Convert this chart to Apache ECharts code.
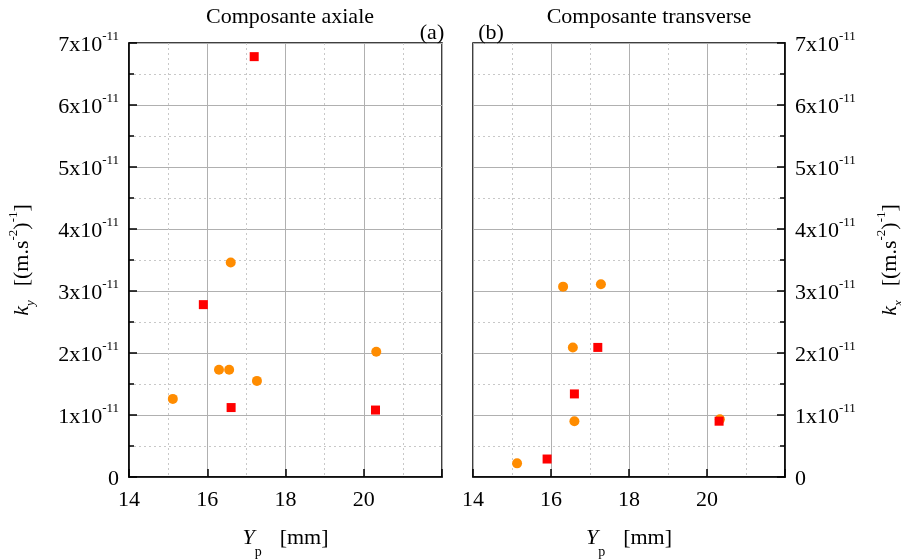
<!DOCTYPE html>
<html>
<head>
<meta charset="utf-8">
<script src="https://cdn.jsdelivr.net/npm/echarts@6/dist/echarts.min.js"></script>
<style>html,body{margin:0;padding:0;background:#fff}#c{width:901px;height:560px}</style>
</head>
<body>
<div id="c"></div>
<script>
// ---- data ----
const panelTitles = ['Composante axiale', 'Composante transverse'];
const panelTags = ['(a)', '(b)'];
const xTicks = [14, 16, 18, 20];
const yTickMantissas = [0, 1, 2, 3, 4, 5, 6, 7];
// Axial component (a)
const axialCircleX = [15.12, 16.30, 16.56, 16.60, 17.27, 20.32];
const axialCircleY = [1.26e-11, 1.73e-11, 1.73e-11, 3.46e-11, 1.55e-11, 2.02e-11];
const axialSquareX = [15.90, 16.61, 17.20, 20.30];
const axialSquareY = [2.78e-11, 1.12e-11, 6.78e-11, 1.08e-11];
// Transverse component (b)
const transCircleX = [15.13, 16.31, 16.56, 16.60, 17.28, 20.33];
const transCircleY = [0.22e-11, 3.07e-11, 2.09e-11, 0.90e-11, 3.11e-11, 0.93e-11];
const transSquareX = [15.90, 16.60, 17.20, 20.31];
const transSquareY = [0.29e-11, 1.34e-11, 2.09e-11, 0.90e-11];

const FONT = 'Liberation Serif';
const zip = (a, b) => a.map((v, i) => [v, b[i]]);

function yFmt(v) {
  const m = Math.round(v / 1e-11);
  if (m === 0) return '{m|0}';
  return '{m|' + yTickMantissas[m] + 'x10}{s|-11}';
}
const yRich = {
  m: { fontFamily: FONT, fontSize: 22, color: '#000', verticalAlign: 'bottom', lineHeight: 26 },
  s: { fontFamily: FONT, fontSize: 13, color: '#000', verticalAlign: 'top', lineHeight: 26 }
};

function xAxisCfg(gi) {
  return {
    gridIndex: gi, type: 'value', min: 14, max: 22, interval: 2,
    axisLine: { show: true, lineStyle: { color: '#000', width: 1.5 } },
    axisTick: { show: true, inside: true, length: 8, lineStyle: { color: '#000', width: 1.5 } },
    minorTick: { show: false, splitNumber: 2 },
    splitLine: { show: true, lineStyle: { color: '#b0b0b0', width: 1 } },
    minorSplitLine: { show: true, lineStyle: { color: '#c8c8c8', width: 1, type: [2, 3] } },
    axisLabel: {
      margin: 12, fontFamily: FONT, fontSize: 22, color: '#000',
      formatter: v => (xTicks.indexOf(v) >= 0 ? String(v) : '')
    },
    name: '{i|Y}{sub|p}{g|}{t|[mm]}',
    nameLocation: 'middle', nameGap: 50,
    nameTextStyle: {
      rich: {
        i: { fontFamily: FONT, fontSize: 22, fontStyle: 'italic', color: '#000', verticalAlign: 'top', lineHeight: 32 },
        sub: { fontFamily: FONT, fontSize: 14, color: '#000', verticalAlign: 'bottom', lineHeight: 32 },
        g: { width: 18 },
        t: { fontFamily: FONT, fontSize: 22, color: '#000', verticalAlign: 'top', lineHeight: 32 }
      }
    }
  };
}

function yAxisCfg(gi, pos, subLetter) {
  return {
    gridIndex: gi, type: 'value', position: pos, min: 0, max: 7e-11, interval: 1e-11,
    axisLine: { show: true, lineStyle: { color: '#000', width: 1.5 } },
    axisTick: { show: true, inside: true, length: 8, lineStyle: { color: '#000', width: 1.5 } },
    minorTick: { show: true, splitNumber: 2, length: 5, lineStyle: { color: '#000', width: 1.5 } },
    splitLine: { show: true, lineStyle: { color: '#b0b0b0', width: 1 } },
    minorSplitLine: { show: true, lineStyle: { color: '#c8c8c8', width: 1, type: [2, 3] } },
    axisLabel: { margin: 10, formatter: yFmt, rich: yRich },
    name: '{i|k}{sub|' + subLetter + '}{g|}{t|[(m.s}{sup|-2}{t|)}{sup|-1}{t|]}',
    nameLocation: 'middle', nameGap: pos === 'left' ? 92 : 90,
    nameRotate: 90,
    nameTextStyle: {
      rich: {
        i: { fontFamily: FONT, fontSize: 22, fontStyle: 'italic', color: '#000', lineHeight: 30 },
        sub: { fontFamily: FONT, fontSize: 13, fontStyle: 'italic', color: '#000', verticalAlign: 'bottom', lineHeight: 30 },
        g: { width: 14 },
        t: { fontFamily: FONT, fontSize: 22, color: '#000', lineHeight: 30 },
        sup: { fontFamily: FONT, fontSize: 13, color: '#000', verticalAlign: 'top', lineHeight: 30 }
      }
    }
  };
}

const titleStyle = { fontFamily: FONT, fontSize: 22, fontWeight: 'normal', color: '#000' };
const chart = echarts.init(document.getElementById('c'), null, { renderer: 'canvas' });
chart.setOption({
  animation: false,
  backgroundColor: '#fff',
  title: [
    { text: panelTitles[0], left: 285, top: 1, textAlign: 'center', textStyle: titleStyle },
    { text: panelTitles[1], left: 644, top: 1, textAlign: 'center', textStyle: titleStyle },
    { text: panelTags[0], left: 427, top: 17, textAlign: 'center', textStyle: titleStyle },
    { text: panelTags[1], left: 486, top: 17, textAlign: 'center', textStyle: titleStyle }
  ],
  grid: [
    { left: 129, top: 43, width: 313, height: 434, containLabel: false, outerBoundsMode: 'none', show: true, borderColor: '#000', borderWidth: 1.5, backgroundColor: 'transparent' },
    { left: 473, top: 43, width: 312, height: 434, containLabel: false, outerBoundsMode: 'none', show: true, borderColor: '#000', borderWidth: 1.5, backgroundColor: 'transparent' }
  ],
  xAxis: [xAxisCfg(0), xAxisCfg(1)],
  yAxis: [yAxisCfg(0, 'left', 'y'), yAxisCfg(1, 'right', 'x')],
  series: [
    { type: 'scatter', xAxisIndex: 0, yAxisIndex: 0, symbol: 'circle', symbolSize: 10, itemStyle: { color: '#ff8c00', opacity: 1 }, data: zip(axialCircleX, axialCircleY) },
    { type: 'scatter', xAxisIndex: 0, yAxisIndex: 0, symbol: 'rect', symbolSize: 9, itemStyle: { color: '#ff0000', opacity: 1 }, data: zip(axialSquareX, axialSquareY) },
    { type: 'scatter', xAxisIndex: 1, yAxisIndex: 1, symbol: 'circle', symbolSize: 10, itemStyle: { color: '#ff8c00', opacity: 1 }, data: zip(transCircleX, transCircleY) },
    { type: 'scatter', xAxisIndex: 1, yAxisIndex: 1, symbol: 'rect', symbolSize: 9, itemStyle: { color: '#ff0000', opacity: 1 }, data: zip(transSquareX, transSquareY) }
  ]
});
</script>
</body>
</html>
